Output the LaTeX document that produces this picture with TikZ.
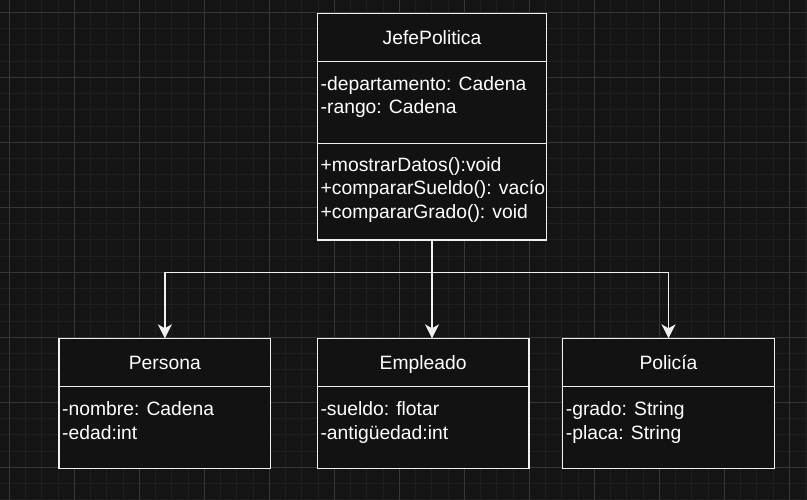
\documentclass[tikz,border=0pt]{standalone}
\usepackage{fontspec}
\setmainfont{Liberation Sans}
\usetikzlibrary{arrows.meta}
\definecolor{bgc}{HTML}{141414}
\definecolor{boxfill}{HTML}{121212}
\definecolor{minorc}{HTML}{1F1F1F}
\definecolor{majorc}{HTML}{363636}
\definecolor{linec}{HTML}{F0F0F0}
\tikzset{
  minorgrid/.style={draw=minorc, line width=1pt},
  majorgrid/.style={draw=majorc, line width=1pt},
  umlbox/.style={draw=linec, fill=boxfill, line width=1.3pt, anchor=north west, inner sep=0pt, outer sep=0pt},
  divider/.style={draw=linec, line width=1.3pt},
  title/.style={text=white, anchor=base, inner sep=0pt, font=\fontsize{19.3pt}{23.3pt}\selectfont},
  member/.style={text=white, anchor=base west, inner sep=0pt, font=\fontsize{19.3pt}{23.3pt}\selectfont},
  conn/.style={draw=linec, line width=1.3pt, -{Stealth[length=14pt, width=14pt, inset=4pt]}}
}
\begin{document}
\begin{tikzpicture}[x=1pt,y=-1pt]
\useasboundingbox (0,0) rectangle (807,500);
\fill[bgc] (0,0) rectangle (807,500);
% grid
\foreach \i in {0,...,50} {
  \pgfmathsetmacro\xx{-6.95+16.25*\i}
  \draw[minorgrid] (\xx,0) -- (\xx,500);
}
\foreach \j in {0,...,31} {
  \pgfmathsetmacro\yy{-3.95+16.25*\j}
  \draw[minorgrid] (0,\yy) -- (807,\yy);
}
\foreach \i in {0,...,12} {
  \pgfmathsetmacro\xx{9.3+65*\i}
  \draw[majorgrid] (\xx,0) -- (\xx,500);
}
\foreach \j in {0,...,7} {
  \pgfmathsetmacro\yy{12.3+65*\j}
  \draw[majorgrid] (0,\yy) -- (807,\yy);
}

% JefePolitica
\node[umlbox, minimum width=229.4pt, minimum height=226.7pt] (jefe) at (317.3,13.3) {};
\draw[divider] (317.3,61.7) -- (546.7,61.7);
\draw[divider] (317.3,143.3) -- (546.7,143.3);
\node[title] (jefeT) at (432,44.3) {JefePolitica};
\node[member] (jefeA1) at (320.5,90.7) {-departamento: Cadena};
\node[member] (jefeA2) at (320.5,114.0) {-rango: Cadena};
\node[member] (jefeM1) at (320.5,171.7) {+mostrarDatos():void};
\node[member] (jefeM2) at (320.5,195.0) {+compararSueldo(): vacío};
\node[member] (jefeM3) at (320.5,218.3) {+compararGrado(): void};

% Persona
\node[umlbox, minimum width=211.7pt, minimum height=130pt] (persona) at (59,338.3) {};
\draw[divider] (59,386.7) -- (270.7,386.7);
\node[title] (personaT) at (164.8,369.3) {Persona};
\node[member] (personaA1) at (62,415.7) {-nombre: Cadena};
\node[member] (personaA2) at (62,439.3) {-edad:int};

% Empleado
\node[umlbox, minimum width=211.7pt, minimum height=130pt] (empleado) at (317.3,338.3) {};
\draw[divider] (317.3,386.7) -- (529,386.7);
\node[title] (empleadoT) at (423.2,369.3) {Empleado};
\node[member] (empleadoA1) at (320.3,415.7) {-sueldo: flotar};
\node[member] (empleadoA2) at (320.3,439.3) {-antigüedad:int};

% Policia
\node[umlbox, minimum width=211.7pt, minimum height=130pt] (policia) at (562.7,338.3) {};
\draw[divider] (562.7,386.7) -- (774.4,386.7);
\node[title] (policiaT) at (668.5,369.3) {Policía};
\node[member] (policiaA1) at (565.7,415.7) {-grado: String};
\node[member] (policiaA2) at (565.7,439.3) {-placa: String};

% connectors
\coordinate (bus) at (432,272.7);
\draw[conn] (jefe.south) -- (bus) -| (persona.north);
\draw[conn] (bus) -| (policia.north);
\draw[conn] (bus) -- (bus |- empleado.north);
\end{tikzpicture}
\end{document}
